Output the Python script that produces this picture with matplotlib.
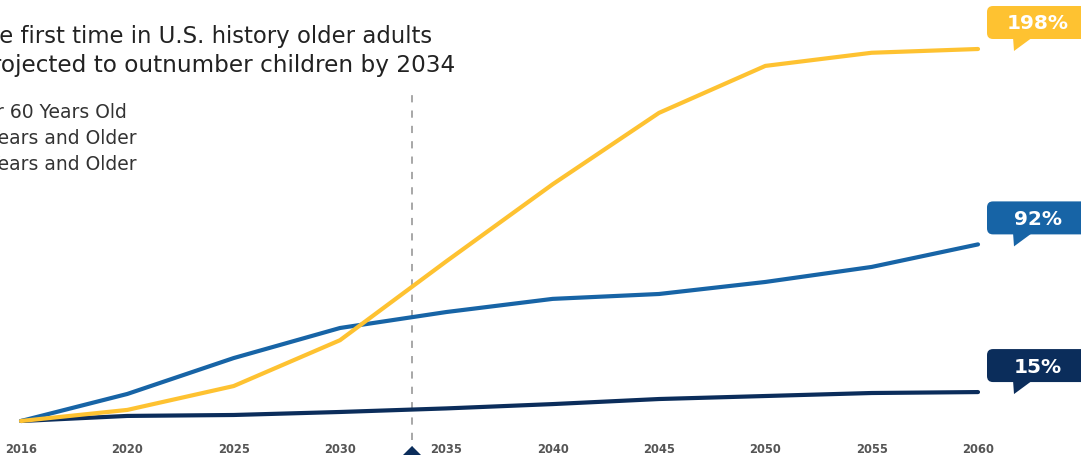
import numpy as np
import matplotlib
matplotlib.use("Agg")
import matplotlib.pyplot as plt
from matplotlib.patches import FancyBboxPatch, Polygon
from matplotlib.transforms import IdentityTransform, blended_transform_factory

plt.rcParams['font.family'] = ['DejaVu Sans']

# data (percent change since 2016)
years = ['2016', '2020', '2025', '2030', '2035', '2040', '2045', '2050', '2055', '2060']
under60 = [0, 2.7, 3.2, 4.8, 6.7, 9.0, 11.7, 13.3, 14.9, 15.4]
age65 = [0, 14.4, 33.5, 49.5, 58, 65, 67.6, 74, 82, 94]
age85 = [0, 5.9, 18.6, 43, 85, 126, 164, 189, 196, 198]
end_labels = ['15%', '92%', '198%']
legend_labels = ['Under 60 Years Old', '65 Years and Older', '85 Years and Older']
title = "For the first time in U.S. history older adults\nare projected to outnumber children by 2034"
marker_x = 3.68  # 2034 line

navy = '#0b2d5b'
blue = '#1764a6'
yellow = '#fec231'

fig = plt.figure(figsize=(10.81, 4.56), dpi=100)
W, H = 1081, 456
ax = fig.add_axes([21 / W, 34 / H, 957 / W, 372 / H])
ax.set_xlim(0, 9)
ax.set_ylim(0, 198)
x = np.arange(len(years))

for vals, c in [(under60, navy), (age65, blue), (age85, yellow)]:
    ax.plot(x, vals, color=c, lw=3, solid_capstyle='round', solid_joinstyle='round', clip_on=False)

# dashed 2034 line + triangle
ax.axvline(marker_x, ymin=-0.05, ymax=0.887, color='#a0a0a0', lw=1.3, ls=(0, (4, 4.5)), clip_on=False, zorder=0)
bt = blended_transform_factory(ax.transData, ax.transAxes)
ax.plot([marker_x], [-0.068], transform=bt, marker=[(0, 0), (-1, -1), (1, -1)], ms=26,
        color=navy, clip_on=False)

ax.set_xticks(x)
ax.set_xticklabels(years, fontsize=8.3, fontweight='bold', color='#555555')
ax.tick_params(axis='x', length=0, pad=15)
ax.set_yticks([])
for s in ax.spines.values():
    s.set_visible(False)

# callouts
def callout(xv, yv, text, color):
    px, py = ax.transData.transform((xv, yv))
    bb = py + 10
    box = FancyBboxPatch((px + 9, bb), 112, 33, boxstyle='round,pad=0,rounding_size=6',
                         transform=IdentityTransform(), fc=color, ec='none')
    fig.add_artist(box)
    tail = Polygon([(px + 35, bb + 2), (px + 55, bb + 2), (px + 36, py - 2)], closed=True,
                   transform=IdentityTransform(), fc=color, ec='none')
    fig.add_artist(tail)
    fig.text(px + 60, bb + 16, text, transform=IdentityTransform(), ha='center', va='center',
             color='white', fontsize=14.5, fontweight='bold')

for vals, lab, c in [(under60, end_labels[0], navy), (age65, end_labels[1], blue), (age85, end_labels[2], yellow)]:
    callout(x[-1], vals[-1], lab, c)

# title and legend text (cut at the left edge)
t1, t2 = title.split('\n')
fig.text(432 / W, 413 / H, t1, ha='right', va='baseline', fontsize=16.4, color='#222222')
fig.text(455 / W, 384 / H, t2, ha='right', va='baseline', fontsize=16.7, color='#222222')
for i, lab in enumerate(legend_labels):
    right = [127, 137, 137][i]
    fig.text(right / W, (338 - 26 * i) / H, lab, ha='right', va='baseline', fontsize=13.5,
             color='#333333')

fig.savefig('out.png', dpi=100)
